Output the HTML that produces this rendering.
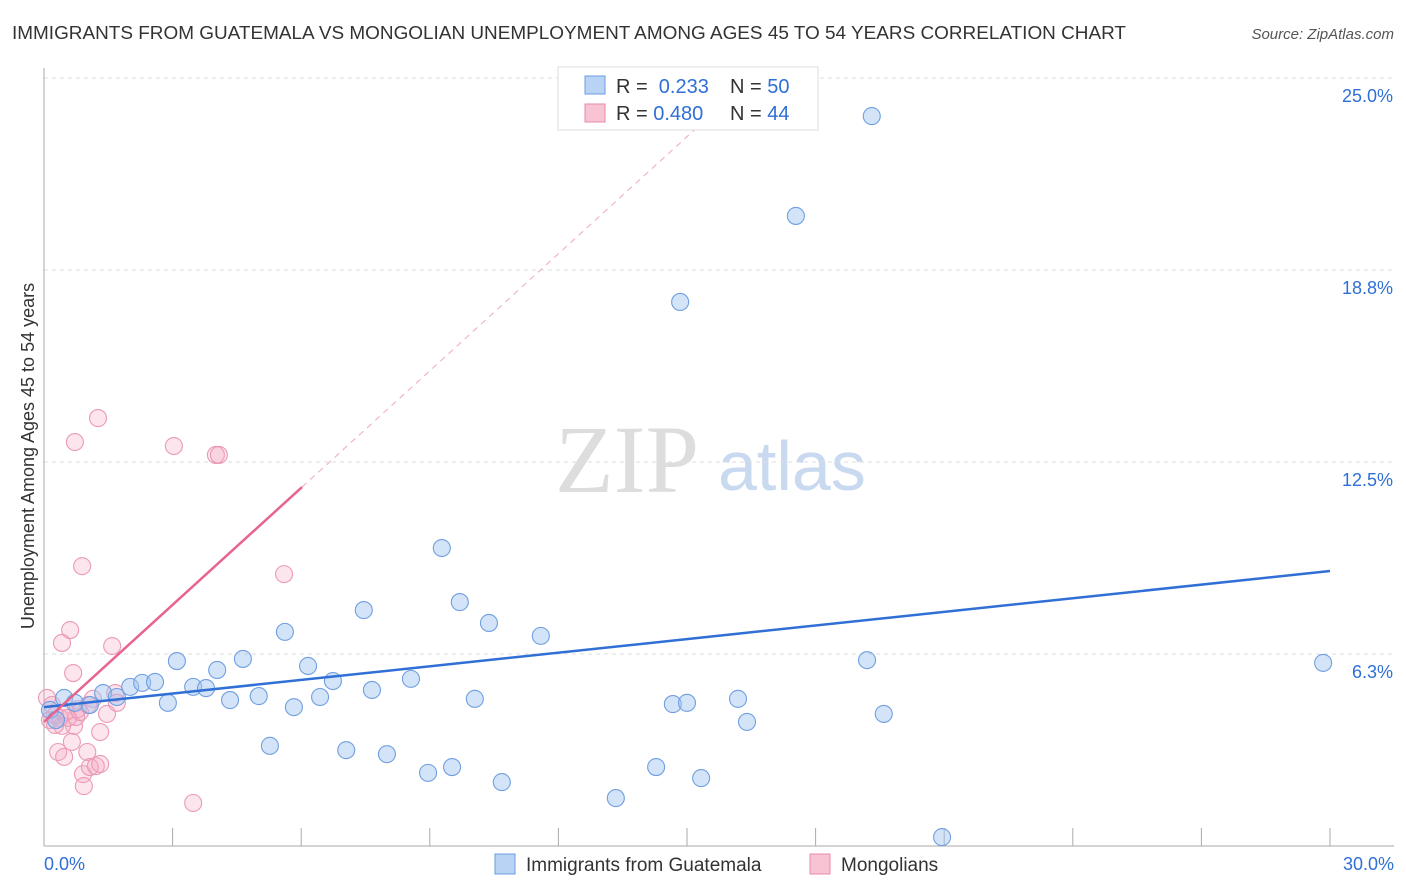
<!DOCTYPE html>
<html><head><meta charset="utf-8"><style>
body{margin:0;background:#fff;font-family:"Liberation Sans",sans-serif;}
svg{display:block}
</style></head><body>
<svg id="c" width="1406" height="892" xmlns="http://www.w3.org/2000/svg">
<text x="12" y="39" font-size="18" fill="#333" textLength="1114" lengthAdjust="spacingAndGlyphs">IMMIGRANTS FROM GUATEMALA VS MONGOLIAN UNEMPLOYMENT AMONG AGES 45 TO 54 YEARS CORRELATION CHART</text>
<text x="1394" y="39" font-size="15" fill="#555" font-style="italic" text-anchor="end">Source: ZipAtlas.com</text>
<text x="34" y="456" font-size="18" fill="#333" text-anchor="middle" transform="rotate(-90 34 456)">Unemployment Among Ages 45 to 54 years</text>
<text x="555" y="492" font-size="96" fill="#ddd" font-family="Liberation Serif,serif">ZIP</text>
<text x="718" y="490" font-size="70" fill="#c8d9f0">atlas</text>
<g id="grid"></g><g id="pts"></g><g id="lines"></g>
<g>
<rect x="558" y="67" width="260" height="63" fill="#fff" stroke="#ddd"/>
<rect x="585" y="76" width="20" height="18" fill="#b9d3f5" stroke="#6a9be0"/>
<rect x="585" y="104" width="20" height="18" fill="#f8c4d3" stroke="#e88aa8"/>
<text x="616" y="93" font-size="20" fill="#333">R = <tspan fill="#2f6fd6">&#160;0.233</tspan></text>
<text x="730" y="93" font-size="20" fill="#333">N = <tspan fill="#2f6fd6">50</tspan></text>
<text x="616" y="120" font-size="20" fill="#333">R = <tspan fill="#2f6fd6">0.480</tspan></text>
<text x="730" y="120" font-size="20" fill="#333">N = <tspan fill="#2f6fd6">44</tspan></text>
</g>
<g>
<rect x="495" y="854" width="20" height="20" fill="#b9d3f5" stroke="#6a9be0"/>
<text x="526" y="871" font-size="19" fill="#333">Immigrants from Guatemala</text>
<rect x="810" y="854" width="20" height="20" fill="#f8c4d3" stroke="#e88aa8"/>
<text x="841" y="871" font-size="19" fill="#333">Mongolians</text>
</g>
</svg>
<script>
const xTicks=[0,3,6,9,12,15,18,21,24,27,30];
const yTicks=[6.25,12.5,18.75,25];
const yTickLabels=["6.3%","12.5%","18.8%","25.0%"];
const blueX=[0.47,0.72,1.07,1.38,1.70,2.01,2.29,2.59,2.89,3.10,3.48,3.78,4.04,4.34,4.64,5.01,5.27,5.62,5.83,6.16,6.44,6.74,7.05,7.46,7.65,8.00,8.56,8.96,9.28,9.52,9.70,10.05,10.38,10.68,11.59,13.34,14.28,14.67,14.84,15.00,15.33,16.19,16.40,17.54,19.20,19.31,19.59,20.95,29.84,0.14,0.28];
const blueY=[4.82,4.66,4.59,4.98,4.85,5.18,5.31,5.34,4.66,6.02,5.18,5.14,5.73,4.75,6.09,4.88,3.26,6.97,4.52,5.86,4.85,5.37,3.12,7.68,5.08,2.99,5.44,2.38,9.70,2.57,7.94,4.79,7.26,2.08,6.84,1.56,2.57,4.62,17.71,4.66,2.21,4.79,4.04,20.51,6.05,23.76,4.30,0.29,5.96,4.43,4.10];
const pinkX=[0.07,0.14,0.26,0.33,0.42,0.47,0.51,0.61,0.65,0.68,0.70,0.72,0.75,0.79,0.89,0.91,0.93,1.01,1.07,1.14,1.21,1.26,1.31,1.31,1.47,1.59,1.66,1.70,3.03,3.48,4.01,4.08,5.60,0.37,0.19,0.84,1.03,0.56,0.42,0.26];
const pinkY=[4.82,4.10,4.26,3.06,6.61,2.90,4.36,7.03,3.39,5.63,3.91,13.15,4.20,4.46,9.11,2.34,1.95,3.06,2.57,4.79,2.60,13.93,2.67,3.71,4.30,6.51,4.98,4.66,13.02,1.40,12.73,12.73,8.85,4.17,4.59,4.36,4.59,4.17,3.91,3.94];
const blueFit=[4.52,0.1477]; // intercept, slope
const pinkFit=[4.04,1.27];
const X=v=>44+v*1286/30, Y=v=>846-v*30.72;
const NS="http://www.w3.org/2000/svg";
function mk(t,a,p){const e=document.createElementNS(NS,t);for(const k in a)e.setAttribute(k,a[k]);p.appendChild(e);return e;}
const g=document.getElementById('grid');
yTicks.forEach((t,i)=>{const l=mk('line',{x1:44,x2:1394,y1:Y(t),y2:Y(t),stroke:'#ddd','stroke-dasharray':'4 4'},g);


const tx=mk('text',{x:1393,y:Y(t)+24,'font-size':18,fill:'#2f6fd6','text-anchor':'end'},g);tx.textContent=yTickLabels[i];

});
mk('line',{x1:44,x2:1394,y1:846,y2:846,stroke:'#aaa'},g);
mk('line',{x1:44,x2:44,y1:68,y2:846,stroke:'#aaa'},g);
xTicks.forEach(t=>{const l=mk('line',{x1:X(t),x2:X(t),y1:828,y2:846,stroke:'#aaa'},g);

});
const a=mk('text',{x:44,y:870,'font-size':18,fill:'#2f6fd6'},g);a.textContent='0.0%';


const b=mk('text',{x:1394,y:870,'font-size':18,fill:'#2f6fd6','text-anchor':'end'},g);b.textContent='30.0%';


const p=document.getElementById('pts');
pinkX.forEach((x,i)=>{const c=mk('circle',{cx:X(x),cy:Y(pinkY[i]),r:8.5,fill:'rgba(245,170,195,0.3)',stroke:'#eb9ab5','stroke-width':1.1},p);

});
blueX.forEach((x,i)=>{const c=mk('circle',{cx:X(x),cy:Y(blueY[i]),r:8.5,fill:'rgba(160,195,240,0.45)',stroke:'#6f9fe0','stroke-width':1.1},p);

});
const L=document.getElementById('lines');
const bl=mk('line',{x1:X(0),y1:Y(blueFit[0]),x2:X(30),y2:Y(blueFit[0]+30*blueFit[1]),stroke:'#2f6fd6','stroke-width':2.5},L);


const pe=6.02, pd=(25-pinkFit[0])/pinkFit[1];
const pl=mk('line',{x1:X(0),y1:Y(pinkFit[0]),x2:X(pe),y2:Y(pinkFit[0]+pe*pinkFit[1]),stroke:'#e8638d','stroke-width':2.5},L);


const pdl=mk('line',{x1:X(pe),y1:Y(pinkFit[0]+pe*pinkFit[1]),x2:X(pd),y2:Y(25),stroke:'#f0b5c8','stroke-width':1.2,'stroke-dasharray':'6 5'},L);


</script>
</body></html>
